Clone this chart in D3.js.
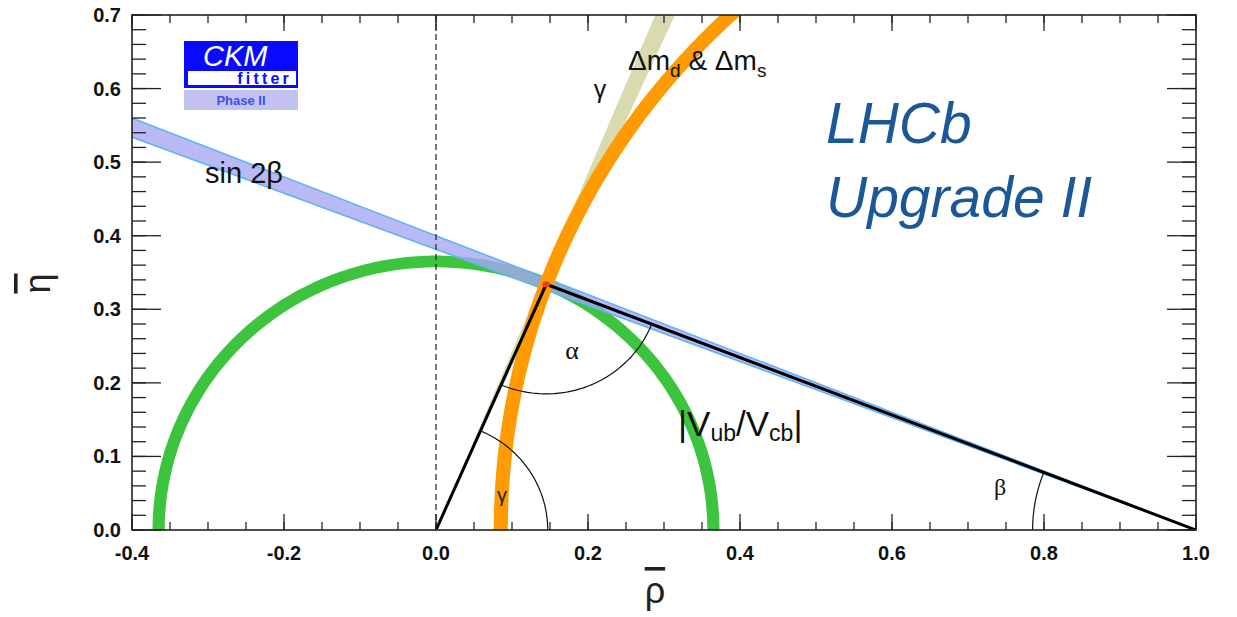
<!DOCTYPE html>
<html><head><meta charset="utf-8">
<script src="https://cdn.jsdelivr.net/npm/d3@7"></script>
<style>body{margin:0;background:#fff}svg{display:block}</style>
</head><body>
<svg id="c" width="1237" height="617"></svg>
<script>
// ---- data (in rho-bar / eta-bar units) ----
const xTickValues = [-0.4, -0.2, 0.0, 0.2, 0.4, 0.6, 0.8, 1.0];
const xTickLabels = ["-0.4", "-0.2", "0.0", "0.2", "0.4", "0.6", "0.8", "1.0"];
const yTickValues = [0.0, 0.1, 0.2, 0.3, 0.4, 0.5, 0.6, 0.7];
const yTickLabels = ["0.0", "0.1", "0.2", "0.3", "0.4", "0.5", "0.6", "0.7"];
const apex = [0.145, 0.334];
const triangleBase = [[0, 0], [1, 0]];
const sin2betaAngles = [20.88, 21.80];   // beta (deg), band through (1,0)
const gammaAngles = [65.8, 67.6];        // gamma (deg), band through (0,0)
const vubCenter = [0, 0];
const vubRadii = [0.357, 0.373];
const dmCenter = [1.047, 0];
const dmRadii = [0.9525, 0.971];
const alphaArcRadius = [0.149];
const gammaArcRadius = [0.147];
const betaArcRadius = [0.215];

const W = 1237, H = 617;
const svg = d3.select("#c");
svg.append("rect").attr("width", W).attr("height", H).attr("fill", "#fff");

const x = d3.scaleLinear().domain([-0.4, 1.0]).range([132, 1196]);
const y = d3.scaleLinear().domain([0, 0.7]).range([530, 15]);
const line = d3.line().x(d => x(d[0])).y(d => y(d[1]));
const rad = Math.PI / 180;

svg.append("clipPath").attr("id", "plot")
  .append("rect").attr("x", x(-0.4)).attr("y", y(0.7))
  .attr("width", x(1.0) - x(-0.4)).attr("height", y(0) - y(0.7));
const g = svg.append("g").attr("clip-path", "url(#plot)");

function annulus(c, r0, r1, a0, a1) {
  const n = 240, pts = [];
  for (let i = 0; i <= n; i++) { const a = (a0 + (a1 - a0) * i / n) * rad; pts.push([c[0] + r1 * Math.cos(a), c[1] + r1 * Math.sin(a)]); }
  for (let i = n; i >= 0; i--) { const a = (a0 + (a1 - a0) * i / n) * rad; pts.push([c[0] + r0 * Math.cos(a), c[1] + r0 * Math.sin(a)]); }
  return line(pts) + "Z";
}
function ray(p, deg, L) { return [p[0] + L * Math.cos(deg * rad), p[1] + L * Math.sin(deg * rad)]; }

// gamma wedge
const O = triangleBase[0], R = triangleBase[1];
g.append("path").attr("d", line([O, ray(O, gammaAngles[0], 3), ray(O, gammaAngles[1], 3)]) + "Z")
  .attr("fill", "#d9dab0");
// |Vub/Vcb| ring
g.append("path").attr("d", annulus(vubCenter, vubRadii[0], vubRadii[1], 0, 180)).attr("fill", "#3cc43f");
// sin 2beta band
const b0 = 180 - sin2betaAngles[0], b1 = 180 - sin2betaAngles[1];
g.append("path").attr("d", line([R, ray(R, b0, 3), ray(R, b1, 3)]) + "Z")
  .attr("fill", "#a6a8f2").attr("fill-opacity", 0.8);
[b0, b1].forEach(a => g.append("path").attr("d", line([R, ray(R, a, 3)]))
  .attr("stroke", "#62b2f4").attr("stroke-width", 1.6).attr("fill", "none"));
// dm_d & dm_s ring
g.append("path").attr("d", annulus(dmCenter, dmRadii[0], dmRadii[1], 90, 180)).attr("fill", "#ff9a00");

// dashed rho=0 line
g.append("path").attr("d", line([[0, 0], [0, 0.7]])).attr("stroke", "#222")
  .attr("stroke-width", 1.2).attr("stroke-dasharray", "6,4").attr("fill", "none");

// triangle
g.append("path").attr("d", line([O, apex, R])).attr("stroke", "#000")
  .attr("stroke-width", 3).attr("fill", "none").attr("stroke-linejoin", "miter");

// angle arcs
function arc(c, r, a0, a1) {
  const n = 80, pts = [];
  for (let i = 0; i <= n; i++) { const a = (a0 + (a1 - a0) * i / n) * rad; pts.push([c[0] + r * Math.cos(a), c[1] + r * Math.sin(a)]); }
  return line(pts);
}
const toO = Math.atan2(O[1] - apex[1], O[0] - apex[0]) / rad;
const toR = Math.atan2(R[1] - apex[1], R[0] - apex[0]) / rad;
const gam = Math.atan2(apex[1], apex[0]) / rad;
const bet = Math.atan2(apex[1] - R[1], apex[0] - R[0]) / rad;
[[apex, alphaArcRadius[0], toO, toR], [O, gammaArcRadius[0], 0, gam], [R, betaArcRadius[0], bet, 180]]
  .forEach(([c, r, a0, a1]) => g.append("path").attr("d", arc(c, r, a0, a1))
    .attr("stroke", "#111").attr("stroke-width", 1.2).attr("fill", "none"));

// apex point
g.append("ellipse").attr("cx", x(apex[0])).attr("cy", y(apex[1])).attr("rx", 4).attr("ry", 3).attr("fill", "#e8402a");

// ---- axes ----
const ax = svg.append("g");
function ticks(vals, isX, len, pos) {
  vals.forEach(v => {
    if (isX) {
      const px = x(v);
      if (pos === "bottom") ax.append("line").attr("x1", px).attr("x2", px).attr("y1", y(0)).attr("y2", y(0) - len);
      else ax.append("line").attr("x1", px).attr("x2", px).attr("y1", y(0.7)).attr("y2", y(0.7) + len);
    } else {
      const py = y(v);
      if (pos === "left") ax.append("line").attr("x1", x(-0.4)).attr("x2", x(-0.4) + len).attr("y1", py).attr("y2", py);
      else ax.append("line").attr("x1", x(1.0)).attr("x2", x(1.0) - len).attr("y1", py).attr("y2", py);
    }
  });
}
const xMinor = d3.range(0, 29).map(i => -0.4 + i * 0.05);
const yMinor = d3.range(0, 36).map(i => i * 0.02);
["bottom", "top"].forEach(p => { ticks(xMinor, true, 8, p); ticks(xTickValues, true, 16, p); });
["left", "right"].forEach(p => { ticks(yMinor, false, 14, p); ticks(yTickValues, false, 29, p); });
ax.selectAll("line").attr("stroke", "#222").attr("stroke-width", 1.3);
ax.append("rect").attr("x", x(-0.4)).attr("y", y(0.7)).attr("width", x(1.0) - x(-0.4)).attr("height", y(0) - y(0.7))
  .attr("fill", "none").attr("stroke", "#222").attr("stroke-width", 1.6);

const lab = svg.append("g").attr("font-family", "Liberation Sans, Arial, sans-serif").attr("font-weight", "bold")
  .attr("font-size", 20).attr("fill", "#111");
xTickValues.forEach((v, i) => lab.append("text").attr("x", x(v)).attr("y", 560).attr("text-anchor", "middle").text(xTickLabels[i]));
yTickValues.forEach((v, i) => lab.append("text").attr("x", 121).attr("y", y(v) + 7).attr("text-anchor", "end").text(yTickLabels[i]));

// axis titles (overlined letters)
const sans = "Liberation Sans, Arial, sans-serif", serif = "Liberation Serif, Times New Roman, serif";
svg.append("text").attr("x", x(0.288)).attr("y", 603).attr("text-anchor", "middle")
  .attr("font-family", sans).attr("font-size", 36).attr("fill", "#222")
  .style("text-decoration", "overline").text("ρ");
svg.append("text").attr("transform", `translate(50,${y(0.335)}) rotate(-90)`).attr("text-anchor", "middle")
  .attr("font-family", sans).attr("font-size", 36).attr("fill", "#222")
  .style("text-decoration", "overline").text("η");

// ---- annotations ----
function txt(px, py, s, size, fam, anchor, fill) {
  return svg.append("text").attr("x", px).attr("y", py).attr("font-family", fam).attr("font-size", size)
    .attr("fill", fill || "#111").attr("text-anchor", anchor || "start").text(s);
}
txt(205, 183, "sin 2β", 29, sans);
txt(600, 98, "γ", 25, sans, "middle");
const dm = svg.append("text").attr("x", 628).attr("y", 70).attr("font-family", sans).attr("font-size", 28).attr("fill", "#111");
dm.append("tspan").text("Δm");
dm.append("tspan").attr("font-size", 19).attr("dy", 7).text("d");
dm.append("tspan").attr("dy", -7).text(" & Δm");
dm.append("tspan").attr("font-size", 19).attr("dy", 7).text("s");
txt(572, 359, "α", 26, serif, "middle");
txt(1000, 495, "β", 24, serif, "middle");
txt(502, 502, "γ", 20, sans, "middle", "#222");
const v = svg.append("text").attr("x", 678).attr("y", 436).attr("font-family", sans).attr("font-size", 35).attr("fill", "#111");
v.append("tspan").text("|V");
v.append("tspan").attr("font-size", 23).attr("dy", 5).text("ub");
v.append("tspan").attr("dy", -5).text("/V");
v.append("tspan").attr("font-size", 23).attr("dy", 5).text("cb");
v.append("tspan").attr("dy", -5).text("|");

txt(826, 143, "LHCb", 57, sans, "start", "#1b5897").attr("font-style", "italic");
txt(826, 217, "Upgrade II", 57, sans, "start", "#1b5897").attr("font-style", "italic");

// ---- CKMfitter logo ----
const logo = svg.append("g");
logo.append("rect").attr("x", 184).attr("y", 41).attr("width", 114).attr("height", 47).attr("fill", "#0a0aff");
logo.append("rect").attr("x", 188).attr("y", 71).attr("width", 108).attr("height", 14).attr("fill", "#fff");
logo.append("text").attr("x", 203).attr("y", 66).attr("font-family", sans).attr("font-style", "italic")
  .attr("font-size", 29).attr("fill", "#fff").text("CKM");
logo.append("text").attr("x", 292).attr("y", 84).attr("text-anchor", "end").attr("font-family", sans).attr("font-weight", "bold")
  .attr("font-size", 16).attr("letter-spacing", 3.2).attr("fill", "#0a0aff").text("fitter");
logo.append("rect").attr("x", 184).attr("y", 90).attr("width", 114).attr("height", 20).attr("fill", "#c3c3f1");
logo.append("text").attr("x", 241).attr("y", 105).attr("text-anchor", "middle").attr("font-family", sans).attr("font-weight", "bold")
  .attr("font-size", 13).attr("fill", "#3d4ff0").text("Phase II");
</script>
</body></html>
